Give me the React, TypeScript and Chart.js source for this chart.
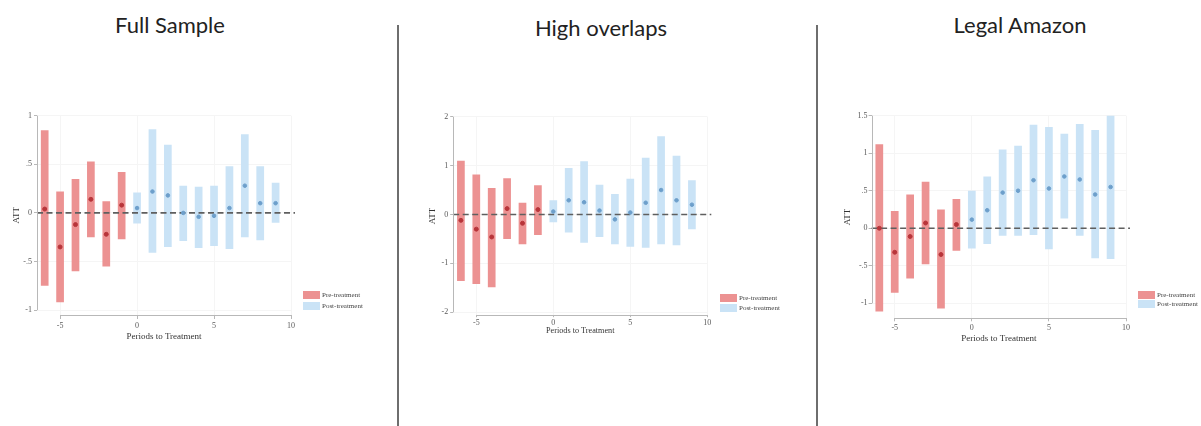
import React, { useEffect, useRef } from "react";
import { Chart, registerables } from "chart.js";

Chart.register(...registerables);

// ---------------- data ----------------
const periodsPre = [-6, -5, -4, -3, -2, -1];
const periodsPost = [0, 1, 2, 3, 4, 5, 6, 7, 8, 9];
const xTicks = [-5, 0, 5, 10];
const xTickLabels = ["-5", "0", "5", "10"];

const panelTitles = ["Full Sample", "High overlaps", "Legal Amazon"];
const legendLabels = ["Pre-treatment", "Post-treatment"];
const xAxisTitle = "Periods to Treatment";
const yAxisTitle = "ATT";

// Full Sample
const fullPreAtt = [0.04, -0.35, -0.12, 0.14, -0.22, 0.08];
const fullPreLo = [-0.75, -0.92, -0.6, -0.25, -0.55, -0.27];
const fullPreHi = [0.85, 0.22, 0.35, 0.53, 0.12, 0.42];
const fullPostAtt = [0.05, 0.22, 0.18, 0.0, -0.04, -0.03, 0.05, 0.28, 0.1, 0.1];
const fullPostLo = [-0.11, -0.41, -0.35, -0.29, -0.36, -0.34, -0.37, -0.25, -0.28, -0.1];
const fullPostHi = [0.21, 0.86, 0.7, 0.28, 0.27, 0.28, 0.48, 0.81, 0.48, 0.31];
const fullYTicks = [-1, -0.5, 0, 0.5, 1];
const fullYLabels = ["-1", "-.5", "0", ".5", "1"];

// High overlaps
const highPreAtt = [-0.12, -0.3, -0.46, 0.12, -0.18, 0.1];
const highPreLo = [-1.36, -1.42, -1.49, -0.5, -0.61, -0.42];
const highPreHi = [1.1, 0.82, 0.54, 0.74, 0.24, 0.6];
const highPostAtt = [0.06, 0.29, 0.25, 0.08, -0.1, 0.04, 0.24, 0.5, 0.29, 0.2];
const highPostLo = [-0.16, -0.37, -0.58, -0.46, -0.61, -0.66, -0.68, -0.61, -0.63, -0.3];
const highPostHi = [0.29, 0.95, 1.09, 0.61, 0.42, 0.73, 1.16, 1.6, 1.2, 0.7];
const highYTicks = [-2, -1, 0, 1, 2];
const highYLabels = ["-2", "-1", "0", "1", "2"];

// Legal Amazon
const amazonPreAtt = [0.0, -0.32, -0.11, 0.07, -0.35, 0.05];
const amazonPreLo = [-1.11, -0.86, -0.67, -0.48, -1.07, -0.3];
const amazonPreHi = [1.12, 0.23, 0.45, 0.62, 0.25, 0.39];
const amazonPostAtt = [0.115, 0.24, 0.475, 0.5, 0.64, 0.53, 0.69, 0.65, 0.45, 0.55];
const amazonPostLo = [-0.27, -0.21, -0.1, -0.1, -0.09, -0.28, 0.13, -0.1, -0.4, -0.41];
const amazonPostHi = [0.5, 0.69, 1.05, 1.1, 1.38, 1.35, 1.26, 1.39, 1.31, 1.51];
const amazonYTicks = [-1, -0.5, 0, 0.5, 1, 1.5];
const amazonYLabels = ["-1", "-.5", "0", ".5", "1", "1.5"];

// ---------------- styles ----------------
const PRE_BAR = "rgba(235,140,140,0.95)";
const POST_BAR = "rgba(199,226,245,0.95)";
const PRE_PT = "#b8353a";
const POST_PT = "#6d9fcb";
const ZERO = "#5f5f5f";
const AXIS = "#b8b8b8";
const GRID = "#f5f5f5";
const TICK_TEXT = "#5a5a5a";
const TITLE_TEXT = "#333333";
const SERIF = "'Liberation Serif', 'DejaVu Serif', serif";

type Layout = {
  left: number; top: number; width: number; height: number;
  padTop: number; padRight: number; padBottom: number;
  yWidth: number; yTitlePad: number; yTickLen: number; yTickPad: number;
  xHeight: number; xTitlePad: number; xTickLen: number; xTickPad: number;
  xMin: number; xMax: number; yMin: number; yMax: number;
  axisTitleSize: number;
};

type Panel = {
  preAtt: number[]; preLo: number[]; preHi: number[];
  postAtt: number[]; postLo: number[]; postHi: number[];
  yTicks: number[]; yLabels: string[];
  layout: Layout;
  titleX: number; titleTop: number;
  legendLeft: number; legendTops: number[];
};

const panels: Panel[] = [
  {
    preAtt: fullPreAtt, preLo: fullPreLo, preHi: fullPreHi,
    postAtt: fullPostAtt, postLo: fullPostLo, postHi: fullPostHi,
    yTicks: fullYTicks, yLabels: fullYLabels,
    layout: {
      left: 0, top: 100, width: 310, height: 250,
      padTop: 15.7, padRight: 19, padBottom: 5,
      yWidth: 37, yTitlePad: 11.6, yTickLen: 3, yTickPad: 2,
      xHeight: 30, xTitlePad: 2.9, xTickLen: 4, xTickPad: 2.5,
      xMin: -6.5, xMax: 10, yMin: -1.05, yMax: 1,
      axisTitleSize: 9,
    },
    titleX: 170, titleTop: 13.5,
    legendLeft: 303, legendTops: [291, 302],
  },
  {
    preAtt: highPreAtt, preLo: highPreLo, preHi: highPreHi,
    postAtt: highPostAtt, postLo: highPostLo, postHi: highPostHi,
    yTicks: highYTicks, yLabels: highYLabels,
    layout: {
      left: 400, top: 100, width: 320, height: 250,
      padTop: 16.7, padRight: 12.7, padBottom: 9.8,
      yWidth: 53.2, yTitlePad: 27.6, yTickLen: 3, yTickPad: 2,
      xHeight: 25, xTitlePad: 4.9, xTickLen: 2, xTickPad: 0.5,
      xMin: -6.5, xMax: 10, yMin: -2.06, yMax: 2,
      axisTitleSize: 8.2,
    },
    titleX: 601, titleTop: 17.2,
    legendLeft: 720, legendTops: [294, 304],
  },
  {
    preAtt: amazonPreAtt, preLo: amazonPreLo, preHi: amazonPreHi,
    postAtt: amazonPostAtt, postLo: amazonPostLo, postHi: amazonPostHi,
    yTicks: amazonYTicks, yLabels: amazonYLabels,
    layout: {
      left: 820, top: 100, width: 318, height: 250,
      padTop: 15.7, padRight: 12, padBottom: 1.7,
      yWidth: 51.6, yTitlePad: 22.6, yTickLen: 3, yTickPad: 1,
      xHeight: 30, xTitlePad: 4.6, xTickLen: 3, xTickPad: 2.2,
      xMin: -6.5, xMax: 10, yMin: -1.2, yMax: 1.5,
      axisTitleSize: 9,
    },
    titleX: 1020, titleTop: 13.5,
    legendLeft: 1138, legendTops: [291, 300],
  },
];

const stataPlugin = {
  id: "stataAxes",
  afterDatasetDraw(chart: any, args: any) {
    if (args.index !== 1) return;
    const { ctx, chartArea, scales } = chart;
    const y0 = scales.y.getPixelForValue(0);
    ctx.save();
    ctx.strokeStyle = ZERO;
    ctx.lineWidth = 1.6;
    ctx.setLineDash([6, 3.5]);
    ctx.beginPath();
    ctx.moveTo(chartArea.left, y0);
    ctx.lineTo(chartArea.right + 4, y0);
    ctx.stroke();
    ctx.restore();
  },
  afterDraw(chart: any) {
    const { ctx, chartArea, scales } = chart;
    const x = scales.x;
    const y = scales.y;
    const yt = y.ticks;
    const xt = x.ticks;
    ctx.save();
    ctx.strokeStyle = AXIS;
    ctx.lineWidth = 1;
    ctx.beginPath();
    const ax = Math.round(chartArea.left) + 0.5;
    ctx.moveTo(ax, y.getPixelForValue(yt[0].value));
    ctx.lineTo(ax, y.getPixelForValue(yt[yt.length - 1].value));
    const ay = Math.round(chartArea.bottom) + 0.5;
    ctx.moveTo(x.getPixelForValue(xt[0].value), ay);
    ctx.lineTo(x.getPixelForValue(xt[xt.length - 1].value), ay);
    ctx.stroke();
    ctx.restore();
  },
};

function makeConfig(p: Panel): any {
  const L = p.layout;
  const preBars = periodsPre.map((x, i) => ({ x, y: [p.preLo[i], p.preHi[i]] }));
  const postBars = periodsPost.map((x, i) => ({ x, y: [p.postLo[i], p.postHi[i]] }));
  const prePts = periodsPre.map((x, i) => ({ x, y: p.preAtt[i] }));
  const postPts = periodsPost.map((x, i) => ({ x, y: p.postAtt[i] }));
  return {
    type: "bar",
    data: {
      datasets: [
        {
          type: "bar", label: legendLabels[0], data: preBars, backgroundColor: PRE_BAR,
          grouped: false, barPercentage: 0.5, categoryPercentage: 1, order: 4,
        },
        {
          type: "bar", label: legendLabels[1], data: postBars, backgroundColor: POST_BAR,
          grouped: false, barPercentage: 0.5, categoryPercentage: 1, order: 3,
        },
        {
          type: "line", label: "pre ATT", data: prePts, showLine: false,
          pointRadius: 2, pointBackgroundColor: PRE_PT, pointBorderColor: PRE_PT,
          pointBorderWidth: 1, order: 2,
        },
        {
          type: "line", label: "post ATT", data: postPts, showLine: false,
          pointRadius: 1.8, pointBackgroundColor: POST_PT, pointBorderColor: POST_PT,
          pointBorderWidth: 1, order: 1,
        },
      ],
    },
    options: {
      responsive: false,
      animation: false,
      devicePixelRatio: 1,
      layout: { padding: { left: 0, top: L.padTop, right: L.padRight, bottom: L.padBottom } },
      plugins: { legend: { display: false }, tooltip: { enabled: false } },
      scales: {
        x: {
          type: "linear", min: L.xMin, max: L.xMax, offset: false,
          afterBuildTicks: (s: any) => { s.ticks = xTicks.map((v) => ({ value: v })); },
          afterFit: (s: any) => { s.height = L.xHeight; },
          grid: { color: GRID, tickColor: AXIS, tickLength: L.xTickLen, offset: false, drawTicks: true },
          border: { display: false },
          ticks: {
            autoSkip: false, maxRotation: 0, minRotation: 0, padding: L.xTickPad,
            font: { family: SERIF, size: 8 }, color: TICK_TEXT,
            callback: (_v: any, i: number) => xTickLabels[i],
          },
          title: {
            display: true, text: xAxisTitle, color: TITLE_TEXT,
            font: { family: SERIF, size: L.axisTitleSize },
            padding: { top: 0, bottom: L.xTitlePad },
          },
        },
        y: {
          type: "linear", min: L.yMin, max: L.yMax,
          afterBuildTicks: (s: any) => { s.ticks = p.yTicks.map((v) => ({ value: v })); },
          afterFit: (s: any) => { s.width = L.yWidth; },
          grid: { color: GRID, tickColor: AXIS, tickLength: L.yTickLen, drawTicks: true },
          border: { display: false },
          ticks: {
            autoSkip: false, padding: L.yTickPad,
            font: { family: SERIF, size: 8 }, color: TICK_TEXT,
            callback: (_v: any, i: number) => p.yLabels[i],
          },
          title: {
            display: true, text: yAxisTitle, color: TITLE_TEXT,
            font: { family: SERIF, size: 9 },
            padding: { top: L.yTitlePad, bottom: 0 },
          },
        },
      },
    },
    plugins: [stataPlugin],
  };
}

function PanelChart({ panel }: { panel: Panel }) {
  const ref = useRef<HTMLCanvasElement | null>(null);
  useEffect(() => {
    if (!ref.current) return;
    const chart = new Chart(ref.current, makeConfig(panel));
    return () => chart.destroy();
  }, [panel]);
  const L = panel.layout;
  return (
    <canvas
      ref={ref}
      width={L.width}
      height={L.height}
      style={{ position: "absolute", left: L.left, top: L.top, width: L.width, height: L.height }}
    />
  );
}

function Legend({ panel }: { panel: Panel }) {
  const colors = [PRE_BAR, POST_BAR];
  return (
    <>
      {legendLabels.map((lab, i) => (
        <div
          key={lab}
          style={{
            position: "absolute", left: panel.legendLeft, top: panel.legendTops[i],
            height: 8, display: "flex", alignItems: "center", whiteSpace: "nowrap",
          }}
        >
          <div style={{ width: 17, height: 8, background: colors[i], marginRight: 2 }} />
          <span style={{ fontFamily: SERIF, fontSize: 7, color: "#444", lineHeight: "8px" }}>{lab}</span>
        </div>
      ))}
    </>
  );
}

export default function App() {
  return (
    <div
      style={{
        position: "absolute", left: 0, top: 0, width: 1201, height: 426,
        background: "#ffffff", overflow: "hidden",
      }}
    >
      {panels.map((p, i) => (
        <div
          key={panelTitles[i]}
          style={{
            position: "absolute", left: p.titleX, top: p.titleTop, transform: "translateX(-50%)",
            fontFamily: "Lato, 'Open Sans', sans-serif", fontSize: 22, lineHeight: "22px",
            color: "#222222", whiteSpace: "nowrap",
          }}
        >
          {panelTitles[i]}
        </div>
      ))}
      <div style={{ position: "absolute", left: 396.5, top: 25, width: 2, height: 401, background: "#6e6e6e" }} />
      <div style={{ position: "absolute", left: 815.8, top: 25, width: 2, height: 401, background: "#6e6e6e" }} />
      {panels.map((p, i) => (
        <PanelChart key={"c" + i} panel={p} />
      ))}
      {panels.map((p, i) => (
        <Legend key={"l" + i} panel={p} />
      ))}
    </div>
  );
}
